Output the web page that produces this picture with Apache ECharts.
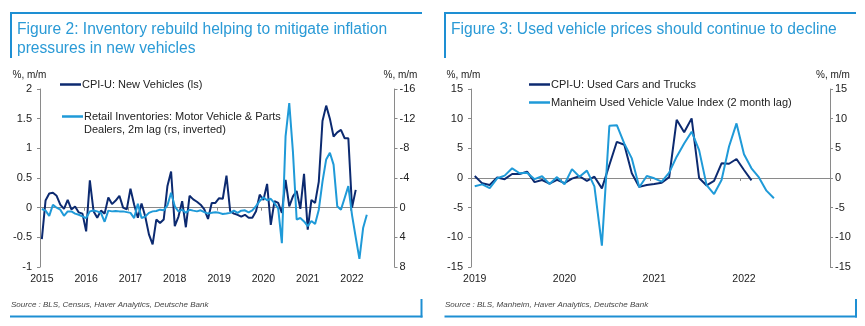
<!DOCTYPE html>
<html>
<head>
<meta charset="utf-8">
<title>New and used vehicle prices</title>
<script src="https://cdn.jsdelivr.net/npm/echarts@6/dist/echarts.min.js"></script>
<style>
  html, body { margin: 0; padding: 0; background: #fff; }
  #chart { width: 865px; height: 326px; }
</style>
</head>
<body>
<div id="chart"></div>
<script>
// ---- Data (monthly % m/m) ----
// Figure 2: CPI-U new vehicles, Jan 2015 onward (left scale)
const cpiNewVehicles = [
  -0.53, 0.12, 0.24, 0.25, 0.20, 0.05, -0.02, 0.13, -0.03, 0.02, -0.08, -0.10,
  -0.40, 0.46, -0.06, -0.17, -0.05, -0.10, 0.17, 0.06, 0.12, 0.20, 0.00, -0.03,
  0.32, 0.05, -0.17, 0.07, -0.15, -0.45, -0.62, -0.20, -0.26, -0.20, 0.36, 0.61,
  -0.31, -0.15, 0.11, -0.33, 0.20, 0.14, 0.10, 0.05, -0.03, -0.19, 0.08, 0.08,
  0.16, 0.15, 0.54, -0.06, -0.10, -0.12, -0.15, -0.12, -0.17, -0.17, -0.06, 0.22,
  0.13, 0.40, -0.29, 0.11, 0.08, -0.09, 0.47, 0.02, 0.19, 0.28, -0.02, 0.57,
  -0.37, 0.13, 0.08, 0.44, 1.46, 1.72, 1.50, 1.20, 1.27, 1.31, 1.17, 1.17,
  0.00, 0.30
];
// Figure 2: retail inventories, motor vehicle & parts dealers, 2m lag (right scale, inverted)
const retailInventories = [
  0.18, 0.40, 1.10, -0.40, 0.00, 0.27, 1.10, 0.50, 0.50, 0.80, 0.95, 1.17,
  1.40, 0.50, 0.38, 0.50, 0.70, 1.90, 0.40, 0.50, 0.45, 0.50, 0.50, 0.60,
  0.70, 1.40, -0.54, 1.40, 1.20, 0.70, 0.50, 0.45, 0.27, 0.36, -0.30, -2.00,
  -0.18, 0.50, 0.27, 0.70, 0.27, 0.40, 0.50, 0.36, 0.60, 0.80, 0.70, 0.63,
  0.70, 0.85, 0.80, 0.70, 0.40, 0.70, 0.40, 0.36, 0.63, 0.36, -0.20, -0.90,
  -1.40, -1.00, -1.20, -0.60, 0.10, 4.80, -9.60, -14.10, -7.50, 1.60, 1.40, 1.85,
  2.50, 1.80, 2.20, 0.27, -3.50, -6.50, -7.40, -5.80, -0.18, 0.27, -1.30, -2.90,
  1.00, 4.00, 6.90, 2.75, 0.95
];
// Figure 3: CPI-U used cars and trucks, Jan 2019 onward
const cpiUsedCars = [
  0.34, -0.90, -1.18, 0.10, -0.20, 0.67, 0.67, 1.07, -0.70, -0.34, -0.95, -0.30,
  -0.85, -0.10, 0.30, -0.50, 0.22, -1.75, 2.20, 6.10, 5.60, 0.80, -1.50, -1.18,
  -1.00, -0.80, 0.15, 9.80, 7.70, 10.05, 0.00, -1.25, -0.50, 2.47, 2.40, 3.20,
  1.35, -0.40
];
// Figure 3: Manheim used vehicle value index, 2 month lag
const manheimIndex = [
  -1.40, -1.07, -1.70, -0.05, 0.40, 1.63, 0.80, 0.90, -0.20, 0.30, -1.00, 0.15,
  -1.05, 1.50, 0.22, 1.24, -1.40, -11.40, 8.80, 8.90, 5.80, 3.30, -1.57, 0.34,
  -0.05, -0.60, 0.90, 3.60, 5.80, 7.80, 4.70, -1.20, -2.70, -0.34, 5.30, 9.20,
  4.00, 1.63, 0.10, -2.13, -3.40
];

// Month categories for each panel
function monthRange(firstYear, lastYear) {
  const out = [];
  for (let y = firstYear; y <= lastYear; y++) {
    for (let m = 1; m <= 12; m++) out.push(y + '-' + String(m).padStart(2, '0'));
  }
  return out;
}
const monthsFig2 = monthRange(2015, 2022);
const monthsFig3 = monthRange(2019, 2022);

// Axis scales
const fig2Left = { min: -1, max: 2, interval: 0.5 };
const fig2Right = { min: -16, max: 8, interval: 4 };
const fig3Scale = { min: -15, max: 15, interval: 5 };

// ---- Styling ----
const FONT = '"Liberation Sans", Arial, sans-serif';
const DARK = '#0c2a70';
const LIGHT = '#1f9ad8';
const FRAME = '#1e8fd3';
const TITLE = '#2a9ad6';
const AXIS = '#8a8a8a';
const TEXT = '#222';

const isJanuary = (idx, val) => val.endsWith('-01');
const yearOf = val => val.slice(0, 4);

function xAxesFor(gridIndex, cats) {
  return [
    { // zero line with yearly ticks
      type: 'category', gridIndex, data: cats, boundaryGap: true,
      axisLine: { show: true, onZero: true, lineStyle: { color: AXIS, width: 1 } },
      axisTick: { show: true, interval: isJanuary, length: 3, lineStyle: { color: AXIS } },
      axisLabel: { show: false }, splitLine: { show: false }
    },
    { // year labels along the bottom
      type: 'category', gridIndex, data: cats, boundaryGap: true, position: 'bottom',
      axisLine: { show: false, onZero: false }, axisTick: { show: false },
      axisLabel: { interval: isJanuary, formatter: yearOf, fontSize: 10.5, color: TEXT, fontFamily: FONT, margin: 7 },
      splitLine: { show: false }
    }
  ];
}

function yAxisFor(gridIndex, scale, position, extra) {
  return Object.assign({
    type: 'value', gridIndex, position,
    min: scale.min, max: scale.max, interval: scale.interval,
    axisLine: { show: true, lineStyle: { color: AXIS, width: 1 } },
    axisTick: { show: true, length: 3, lineStyle: { color: AXIS } },
    axisLabel: { fontSize: 11, color: TEXT, fontFamily: FONT, margin: position === 'left' ? 8 : 5 },
    splitLine: { show: false }
  }, extra || {});
}

function lineSeries(name, data, xIdx, yIdx, color) {
  return {
    type: 'line', name, data, xAxisIndex: xIdx, yAxisIndex: yIdx,
    symbol: 'none', smooth: false, silent: true, animation: false,
    lineStyle: { color, width: 2 }, itemStyle: { color }
  };
}

// ---- Frames, titles, notes and key ----
function frameLine(x1, y1, x2, y2) {
  return { type: 'line', silent: true, shape: { x1, y1, x2, y2 }, style: { stroke: FRAME, lineWidth: 2 } };
}
function label(text, x, y, opts) {
  return {
    type: 'text', silent: true, x, y,
    style: Object.assign({ text, fill: TEXT, font: '11px ' + FONT, align: 'left', verticalAlign: 'middle' }, opts || {})
  };
}
function keyItem(x, y, color, text, lineX) {
  return [
    { type: 'line', silent: true, shape: { x1: lineX, y1: y, x2: lineX + 21, y2: y }, style: { stroke: color, lineWidth: 2.5 } },
    label(text, x, y)
  ];
}

const TITLE_FONT = '15.6px ' + FONT;
const graphics = [
  // Figure 2 panel
  frameLine(10, 13, 422, 13), frameLine(11, 12, 11, 58),
  frameLine(10, 316.5, 422.5, 316.5), frameLine(421.5, 299, 421.5, 317.5),
  label('Figure 2: Inventory rebuild helping to mitigate inflation', 17, 30, { fill: TITLE, font: TITLE_FONT }),
  label('pressures in new vehicles', 17, 49, { fill: TITLE, font: TITLE_FONT }),
  label('%, m/m', 29.5, 75.5, { align: 'center', font: '10px ' + FONT }),
  label('%, m/m', 400.5, 75.5, { align: 'center', font: '10px ' + FONT }),
  label('Source : BLS, Census, Haver Analytics, Deutsche Bank', 11, 304.5, { fill: '#444', font: 'italic 8px ' + FONT }),
  ...keyItem(82, 84.5, DARK, 'CPI-U: New Vehicles (ls)', 60),
  ...keyItem(84, 116.5, LIGHT, 'Retail Inventories: Motor Vehicle & Parts', 62),
  label('Dealers, 2m lag (rs, inverted)', 84, 129.5),

  // Figure 3 panel
  frameLine(444, 13, 856, 13), frameLine(445, 12, 445, 58),
  frameLine(444.5, 316.5, 857, 316.5), frameLine(856, 299, 856, 317.5),
  label('Figure 3: Used vehicle prices should continue to decline', 451, 30, { fill: TITLE, font: TITLE_FONT }),
  label('%, m/m', 463.5, 75.5, { align: 'center', font: '10px ' + FONT }),
  label('%, m/m', 833, 75.5, { align: 'center', font: '10px ' + FONT }),
  label('Source : BLS, Manheim, Haver Analytics, Deutsche Bank', 445, 304.5, { fill: '#444', font: 'italic 8px ' + FONT }),
  ...keyItem(551, 84.5, DARK, 'CPI-U: Used Cars and Trucks', 529),
  ...keyItem(551, 102.5, LIGHT, 'Manheim Used Vehicle Value Index (2 month lag)', 529)
];

const chart = echarts.init(document.getElementById('chart'), null, { renderer: 'canvas' });
chart.setOption({
  animation: false,
  backgroundColor: '#fff',
  textStyle: { fontFamily: FONT },
  grid: [
    { left: 40, top: 89, width: 354.5, height: 178, containLabel: false },
    { left: 471, top: 89, width: 359, height: 178, containLabel: false }
  ],
  xAxis: [...xAxesFor(0, monthsFig2), ...xAxesFor(1, monthsFig3)],
  yAxis: [
    yAxisFor(0, fig2Left, 'left'),
    yAxisFor(0, fig2Right, 'right', { inverse: true }),
    yAxisFor(1, fig3Scale, 'left'),
    yAxisFor(1, fig3Scale, 'right')
  ],
  series: [
    lineSeries('CPI-U: New Vehicles (ls)', cpiNewVehicles, 0, 0, DARK),
    lineSeries('Retail Inventories: Motor Vehicle & Parts Dealers, 2m lag (rs, inverted)', retailInventories, 0, 1, LIGHT),
    lineSeries('CPI-U: Used Cars and Trucks', cpiUsedCars, 2, 2, DARK),
    lineSeries('Manheim Used Vehicle Value Index (2 month lag)', manheimIndex, 2, 2, LIGHT)
  ],
  graphic: graphics
});
</script>
</body>
</html>
